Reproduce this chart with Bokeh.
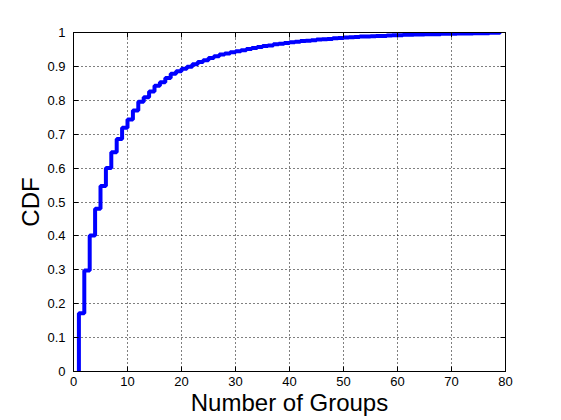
from bokeh.plotting import figure
from bokeh.models import LinearAxis, FixedTicker, Range1d
from bokeh.embed import file_html
from bokeh.resources import INLINE

# CDF step levels (number of groups -> cumulative fraction)
groups = list(range(1, 80))
cdf = [0.172, 0.298, 0.401, 0.480, 0.547, 0.600, 0.647, 0.686, 0.719, 0.743,
       0.770, 0.796, 0.809, 0.826, 0.843, 0.853, 0.866, 0.878, 0.886, 0.893,
       0.899, 0.906, 0.913, 0.918, 0.925, 0.930, 0.935, 0.938, 0.942, 0.945,
       0.948, 0.951, 0.954, 0.957, 0.960, 0.962, 0.965, 0.967, 0.969, 0.971,
       0.973, 0.975, 0.976, 0.977, 0.979, 0.980, 0.981, 0.983, 0.984, 0.985,
       0.986, 0.987, 0.988, 0.988, 0.989, 0.990, 0.990, 0.991, 0.992, 0.992,
       0.993, 0.993, 0.994, 0.994, 0.995, 0.995, 0.995, 0.996, 0.996, 0.996,
       0.997, 0.997, 0.997, 0.998, 0.998, 0.998, 0.999, 0.999, 1.000]

x_ticks = [0, 10, 20, 30, 40, 50, 60, 70, 80]
y_ticks = [0, 0.1, 0.2, 0.3, 0.4, 0.5, 0.6, 0.7, 0.8, 0.9, 1]
y_labels = {0: "0", 0.1: "0.1", 0.2: "0.2", 0.3: "0.3", 0.4: "0.4", 0.5: "0.5",
            0.6: "0.6", 0.7: "0.7", 0.8: "0.8", 0.9: "0.9", 1: "1"}

# step path: start at (first, 0), then stairs
xs = [groups[0]]
ys = [0.0]
for i, g in enumerate(groups):
    xs.append(g)
    ys.append(cdf[i])
    if i + 1 < len(groups):
        xs.append(groups[i + 1])
        ys.append(cdf[i])

FONT = "Liberation Sans"

p = figure(width=561, height=420, output_backend="svg", toolbar_location=None,
           x_range=Range1d(0, 80), y_range=Range1d(0, 1),
           min_border_left=73, min_border_right=56, min_border_top=32, min_border_bottom=49,
           background_fill_color="white", border_fill_color="white")

p.line(xs, ys, line_color="#0000ff", line_width=4)

p.outline_line_color = "black"
p.outline_line_width = 1

for ax in [p.xaxis[0], p.yaxis[0]]:
    ax.major_tick_in = 5
    ax.major_tick_out = 0
    ax.minor_tick_in = 0
    ax.minor_tick_out = 0
    ax.axis_line_color = "black"
    ax.major_tick_line_color = "black"
    ax.major_label_text_font = FONT
    ax.major_label_text_font_size = "13px"
    ax.major_label_text_color = "black"
    ax.axis_label_text_font = FONT
    ax.axis_label_text_font_size = "24px"
    ax.axis_label_text_font_style = "normal"
    ax.axis_label_text_color = "black"

p.xaxis[0].ticker = FixedTicker(ticks=x_ticks)
p.yaxis[0].ticker = FixedTicker(ticks=y_ticks)
p.yaxis[0].major_label_overrides = y_labels
p.xaxis[0].axis_label = "Number of Groups"
p.yaxis[0].axis_label = "CDF"
p.xaxis[0].major_label_standoff = 5
p.xaxis[0].axis_label_standoff = 0
p.yaxis[0].major_label_standoff = 8
p.yaxis[0].axis_label_standoff = 0

# box ticks on top and right
top = LinearAxis(ticker=FixedTicker(ticks=x_ticks), major_label_text_font_size="0px",
                 major_tick_in=5, major_tick_out=0, minor_tick_in=0, minor_tick_out=0,
                 axis_line_color="black", major_label_text_color=None)
right = LinearAxis(ticker=FixedTicker(ticks=y_ticks), major_label_text_font_size="0px",
                   major_tick_in=5, major_tick_out=0, minor_tick_in=0, minor_tick_out=0,
                   axis_line_color="black", major_label_text_color=None)
p.add_layout(top, "above")
p.add_layout(right, "right")

for g in [p.xgrid[0], p.ygrid[0]]:
    g.grid_line_color = "black"
    g.grid_line_dash = "1 3"
    g.grid_line_width = 1

open("out.html", "w").write(file_html(p, INLINE))
